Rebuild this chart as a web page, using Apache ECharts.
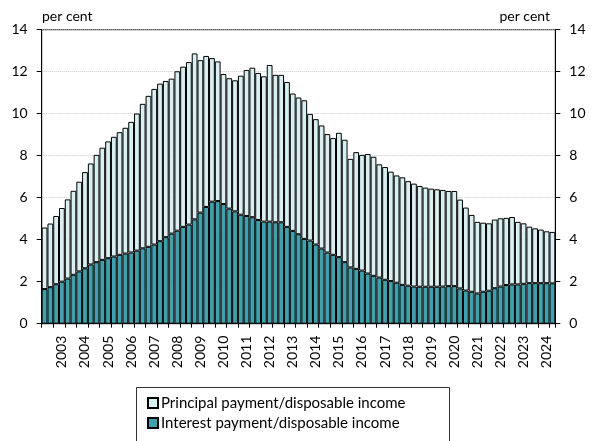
<!DOCTYPE html>
<html>
<head>
<meta charset="utf-8">
<script src="https://cdn.jsdelivr.net/npm/echarts@6/dist/echarts.min.js"></script>
<style>
html,body{margin:0;padding:0;background:#fff;}
#chart{width:593px;height:441px;}
</style>
</head>
<body>
<div id="chart"></div>
<script>
// Quarterly categories, 2002 Q2 – 2024 Q2 (year label shown on Q1)
const quarters = [];
for (let y = 2002; y <= 2024; y++) {
  for (let q = 1; q <= 4; q++) {
    if ((y === 2002 && q < 2) || (y === 2024 && q > 2)) continue;
    quarters.push(y + ' Q' + q);
  }
}

const interestShare = [
  1.65, 1.74, 1.88, 2.00, 2.15, 2.33, 2.49, 2.64, 2.82, 2.93,
  3.04, 3.12, 3.20, 3.28, 3.34, 3.39, 3.48, 3.59, 3.66, 3.77,
  3.93, 4.12, 4.29, 4.43, 4.61, 4.72, 4.97, 5.29, 5.56, 5.81,
  5.84, 5.70, 5.48, 5.35, 5.19, 5.13, 5.07, 4.94, 4.86, 4.86,
  4.83, 4.83, 4.61, 4.42, 4.26, 4.04, 3.96, 3.77, 3.58, 3.39,
  3.28, 3.17, 2.93, 2.68, 2.61, 2.53, 2.39, 2.28, 2.20, 2.09,
  2.03, 1.95, 1.85, 1.81, 1.77, 1.76, 1.76, 1.76, 1.76, 1.77,
  1.79, 1.79, 1.68, 1.58, 1.52, 1.44, 1.52, 1.57, 1.69, 1.77,
  1.84, 1.87, 1.87, 1.90, 1.93, 1.93, 1.93, 1.93, 1.92
];

const principalShare = [
  2.93, 3.03, 3.25, 3.51, 3.77, 4.00, 4.27, 4.58, 4.81, 5.11,
  5.34, 5.56, 5.70, 5.84, 5.99, 6.22, 6.53, 6.88, 7.19, 7.41,
  7.50, 7.44, 7.38, 7.59, 7.63, 7.74, 7.90, 7.26, 7.19, 6.84,
  6.65, 6.19, 6.21, 6.24, 6.62, 6.95, 7.12, 7.00, 6.92, 7.46,
  7.02, 7.02, 6.90, 6.54, 6.51, 6.60, 6.03, 5.97, 5.86, 5.64,
  5.56, 5.92, 5.83, 5.17, 5.56, 5.51, 5.69, 5.67, 5.39, 5.37,
  5.21, 5.11, 5.12, 4.98, 4.90, 4.80, 4.72, 4.67, 4.64, 4.60,
  4.53, 4.53, 4.23, 3.95, 3.66, 3.41, 3.29, 3.21, 3.27, 3.25,
  3.20, 3.21, 2.98, 2.88, 2.69, 2.61, 2.55, 2.47, 2.45
];

const seriesNames = ['Principal payment/disposable income', 'Interest payment/disposable income'];
const unitLabel = 'per cent';

const FONT = 'Lato, "Liberation Sans", sans-serif';
const chart = echarts.init(document.getElementById('chart'), null, {renderer: 'canvas'});

const yAxisCommon = {
  type: 'value', min: 0, max: 14, interval: 2,
  axisLine: {show: true, lineStyle: {color: '#000', width: 1}},
  axisTick: {show: true, length: 5, lineStyle: {color: '#000'}},
  axisLabel: {color: '#000', fontSize: 14, fontFamily: FONT, margin: 14}
};

chart.setOption({
  animation: false,
  backgroundColor: '#fff',
  grid: {left: 41.7, right: 37.7, top: 29.7, bottom: 117.3, show: true, borderColor: '#000', borderWidth: 1, containLabel: false},
  graphic: [
    {type: 'text', left: 42, top: 9, style: {text: unitLabel, fontSize: 14, fontFamily: FONT, fill: '#000'}},
    {type: 'text', right: 43, top: 9, style: {text: unitLabel, fontSize: 14, fontFamily: FONT, fill: '#000'}},
    {type: 'rect', shape: {x: 136.5, y: 387.5, width: 313, height: 70}, style: {fill: 'none', stroke: '#333', lineWidth: 1}, z: 0}
  ],
  legend: {
    orient: 'vertical', left: 142, top: 389,
    data: seriesNames,
    itemWidth: 10, itemHeight: 10, itemGap: 2,
    icon: 'rect',
    textStyle: {color: '#000', fontSize: 15, fontFamily: FONT, padding: [0, 0, 0, -2], lineHeight: 18}
  },
  xAxis: {
    type: 'category', data: quarters, boundaryGap: true,
    axisLine: {show: true, lineStyle: {color: '#000'}},
    axisTick: {show: true, length: 4, interval: function (i) { return i % 2 === 0; }, lineStyle: {color: '#000'}},
    axisLabel: {
      rotate: 90, color: '#000', fontSize: 14, fontFamily: FONT, margin: 12,
      interval: function (i) { return i % 4 === 3; },
      formatter: function (v) { return v.slice(0, 4); }
    }
  },
  yAxis: [
    Object.assign({}, yAxisCommon, {position: 'left', splitLine: {show: true, lineStyle: {color: '#c8c8c8', type: 'dotted', width: 1}}}),
    Object.assign({}, yAxisCommon, {position: 'right', splitLine: {show: false}})
  ],
  series: [
    {
      name: seriesNames[1], type: 'bar', stack: 'total', data: interestShare,
      barCategoryGap: '0%',
      itemStyle: {color: '#41a0ac', borderColor: '#000', borderWidth: 1}
    },
    {
      name: seriesNames[0], type: 'bar', stack: 'total', data: principalShare,
      barCategoryGap: '0%',
      itemStyle: {color: '#daeff1', borderColor: '#000', borderWidth: 1}
    }
  ]
});
</script>
</body>
</html>
